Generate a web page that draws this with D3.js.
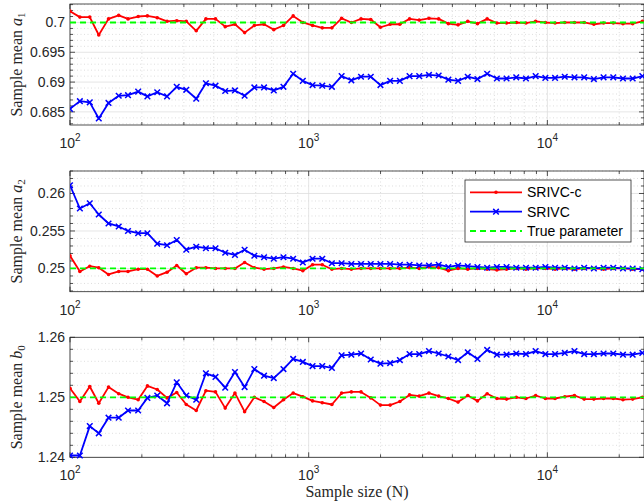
<!DOCTYPE html>
<html>
<head>
<meta charset="utf-8">
<script src="https://cdn.jsdelivr.net/npm/d3@7"></script>
<style>
  body { margin: 0; background: #fff; }
  svg text { font-family: "Liberation Sans", Arial, sans-serif; }
</style>
</head>
<body>
<div id="chart"></div>
<script>
// Sample sizes (x values)
const sampleSizes = [100, 110, 121, 132, 145, 160, 175, 193, 211, 232,
  255, 280, 307, 338, 371, 407, 447, 491, 539, 592,
  650, 714, 784, 861, 945, 1038, 1140, 1251, 1374, 1509,
  1657, 1820, 1998, 2194, 2410, 2646, 2905, 3191, 3504, 3847,
  4225, 4639, 5094, 5594, 6143, 6745, 7407, 8134, 8932, 9808,
  10770, 11827, 12987, 14261, 15660, 17196, 18883, 20736, 22770, 25000]

const seriesNames = ['SRIVC-c', 'SRIVC', 'True parameter']

// a1
const a1Srivcc = [0.7019, 0.7009, 0.7009, 0.6979, 0.7006, 0.7012, 0.7006, 0.7010, 0.7011, 0.7008,
  0.7002, 0.7003, 0.7002, 0.6986, 0.7006, 0.7006, 0.6993, 0.6997, 0.6983, 0.6995,
  0.6997, 0.6988, 0.6995, 0.7011, 0.7000, 0.6995, 0.6991, 0.6991, 0.7007, 0.7000,
  0.7006, 0.7005, 0.6992, 0.6997, 0.6997, 0.7006, 0.7004, 0.7007, 0.7006, 0.6998,
  0.6996, 0.7002, 0.6998, 0.7006, 0.6999, 0.6999, 0.7000, 0.6999, 0.7002, 0.7000,
  0.6999, 0.7000, 0.7000, 0.7000, 0.6997, 0.6999, 0.6999, 0.6998, 0.6998, 0.7002]
const a1Srivc = [0.6855, 0.6868, 0.6866, 0.6839, 0.6865, 0.6877, 0.6878, 0.6884, 0.6876, 0.6883,
  0.6876, 0.6892, 0.6887, 0.6872, 0.6898, 0.6894, 0.6885, 0.6886, 0.6877, 0.6891,
  0.6891, 0.6886, 0.6892, 0.6914, 0.6902, 0.6895, 0.6894, 0.6892, 0.6910, 0.6903,
  0.6909, 0.6909, 0.6895, 0.6902, 0.6902, 0.6910, 0.6910, 0.6912, 0.6911, 0.6904,
  0.6902, 0.6909, 0.6905, 0.6914, 0.6906, 0.6906, 0.6908, 0.6906, 0.6910, 0.6907,
  0.6907, 0.6909, 0.6908, 0.6908, 0.6905, 0.6908, 0.6908, 0.6906, 0.6906, 0.6910]

// a2
const a2Srivcc = [0.2517, 0.2496, 0.2503, 0.2501, 0.2492, 0.2496, 0.2496, 0.2499, 0.2499, 0.2490,
  0.2495, 0.2504, 0.2493, 0.2501, 0.2501, 0.2500, 0.2500, 0.2500, 0.2508, 0.2501,
  0.2499, 0.2500, 0.2502, 0.2500, 0.2497, 0.2505, 0.2505, 0.2499, 0.2500, 0.2499,
  0.2500, 0.2500, 0.2500, 0.2500, 0.2500, 0.2501, 0.2500, 0.2502, 0.2501, 0.2497,
  0.2500, 0.2499, 0.2500, 0.2499, 0.2498, 0.2499, 0.2500, 0.2499, 0.2500, 0.2500,
  0.2499, 0.2500, 0.2499, 0.2500, 0.2500, 0.2499, 0.2500, 0.2500, 0.2499, 0.2499]
const a2Srivc = [0.2611, 0.2580, 0.2587, 0.2572, 0.2560, 0.2556, 0.2550, 0.2547, 0.2547, 0.2533,
  0.2531, 0.2538, 0.2525, 0.2529, 0.2527, 0.2527, 0.2521, 0.2518, 0.2525, 0.2517,
  0.2515, 0.2513, 0.2515, 0.2513, 0.2508, 0.2513, 0.2513, 0.2507, 0.2507, 0.2506,
  0.2506, 0.2506, 0.2506, 0.2506, 0.2505, 0.2505, 0.2504, 0.2504, 0.2505, 0.2502,
  0.2504, 0.2503, 0.2502, 0.2501, 0.2502, 0.2502, 0.2501, 0.2501, 0.2501, 0.2502,
  0.2501, 0.2501, 0.2500, 0.2501, 0.2500, 0.2501, 0.2501, 0.2500, 0.2500, 0.2499]

// b0
const b0Srivcc = [1.2515, 1.2493, 1.2518, 1.2490, 1.2517, 1.2506, 1.2500, 1.2496, 1.2519, 1.2513,
  1.2499, 1.2508, 1.2488, 1.2478, 1.2511, 1.2509, 1.2482, 1.2507, 1.2476, 1.2500,
  1.2493, 1.2483, 1.2496, 1.2507, 1.2501, 1.2494, 1.2491, 1.2488, 1.2507, 1.2509,
  1.2509, 1.2499, 1.2487, 1.2487, 1.2493, 1.2504, 1.2502, 1.2507, 1.2502, 1.2498,
  1.2492, 1.2503, 1.2494, 1.2506, 1.2498, 1.2497, 1.2500, 1.2498, 1.2503, 1.2498,
  1.2498, 1.2501, 1.2503, 1.2497, 1.2497, 1.2498, 1.2498, 1.2496, 1.2497, 1.2500]
const b0Srivc = [1.2403, 1.2403, 1.2452, 1.2440, 1.2466, 1.2466, 1.2478, 1.2478, 1.2499, 1.2503,
  1.2490, 1.2525, 1.2503, 1.2496, 1.2540, 1.2534, 1.2516, 1.2542, 1.2517, 1.2547,
  1.2536, 1.2532, 1.2547, 1.2564, 1.2559, 1.2552, 1.2552, 1.2549, 1.2570, 1.2571,
  1.2573, 1.2563, 1.2556, 1.2557, 1.2562, 1.2572, 1.2572, 1.2577, 1.2573, 1.2568,
  1.2562, 1.2575, 1.2564, 1.2579, 1.2571, 1.2571, 1.2573, 1.2572, 1.2577, 1.2572,
  1.2572, 1.2574, 1.2577, 1.2572, 1.2572, 1.2573, 1.2573, 1.2571, 1.2571, 1.2574]

const trueValues = [0.7, 0.25, 1.25]
const yTicks = [[0.685, 0.69, 0.695, 0.7], [0.25, 0.255, 0.26], [1.24, 1.25, 1.26]]
const yDomains = [[0.6828, 0.7031], [0.2469, 0.2630], [1.24, 1.26]]
const yMinorStep = [0.001, 0.001, 0.002]
const paramNames = [['a', '1'], ['a', '2'], ['b', '0']]
const xTicks = [100, 1000, 10000]
const xMinor = [200, 300, 400, 500, 600, 700, 800, 900, 2000, 3000, 4000, 5000, 6000, 7000, 8000, 9000, 20000]

const panels = [
  { top: 4, bottom: 125, c: a1Srivcc, s: a1Srivc },
  { top: 171, bottom: 291.7, c: a2Srivcc, s: a2Srivc },
  { top: 337.3, bottom: 457.3, c: b0Srivcc, s: b0Srivc }
]

const width = 644
const height = 502
const left = 70
const right = 644
const axisColor = '#262626'

const svg = d3.select('#chart')
  .append('svg')
  .attr('width', width)
  .attr('height', height)

const x = d3.scaleLog().domain([100, 25400]).range([left, right])

panels.forEach((p, k) => {
  const y = d3.scaleLinear().domain(yDomains[k]).range([p.bottom, p.top])
  const g = svg.append('g')
  const [d0, d1] = yDomains[k]
  const minorY = d3.range(Math.ceil(d0 / yMinorStep[k] - 1e-6), Math.floor(d1 / yMinorStep[k] + 1e-6) + 1)
    .map(v => +(v * yMinorStep[k]).toFixed(4))
    .filter(v => !yTicks[k].some(t => Math.abs(t - v) < 1e-6))

  // minor grid (dotted)
  g.selectAll('.mgy').data(minorY).join('line')
    .attr('x1', left).attr('x2', right)
    .attr('y1', d => y(d)).attr('y2', d => y(d))
    .attr('stroke', '#c8c8c8').attr('stroke-width', 0.6)
    .attr('stroke-dasharray', '1,2.5')
  g.selectAll('.mgx').data(xMinor).join('line')
    .attr('x1', d => x(d)).attr('x2', d => x(d))
    .attr('y1', p.top).attr('y2', p.bottom)
    .attr('stroke', '#c8c8c8').attr('stroke-width', 0.6)
    .attr('stroke-dasharray', '1,2.5')

  // major grid
  g.selectAll('.gy').data(yTicks[k]).join('line')
    .attr('x1', left).attr('x2', right)
    .attr('y1', d => y(d)).attr('y2', d => y(d))
    .attr('stroke', '#dedede').attr('stroke-width', 0.8)
  g.selectAll('.gx').data(xTicks).join('line')
    .attr('x1', d => x(d)).attr('x2', d => x(d))
    .attr('y1', p.top).attr('y2', p.bottom)
    .attr('stroke', '#dedede').attr('stroke-width', 0.8)

  // tick marks (inward, both sides)
  const tickLines = []
  yTicks[k].forEach(v => {
    tickLines.push([left, y(v), left + 5, y(v)])
    tickLines.push([right - 5, y(v), right, y(v)])
  })
  minorY.forEach(v => {
    tickLines.push([left, y(v), left + 3, y(v)])
    tickLines.push([right - 3, y(v), right, y(v)])
  })
  xTicks.forEach(v => {
    tickLines.push([x(v), p.bottom, x(v), p.bottom - 5])
    tickLines.push([x(v), p.top, x(v), p.top + 5])
  })
  xMinor.forEach(v => {
    tickLines.push([x(v), p.bottom, x(v), p.bottom - 3])
    tickLines.push([x(v), p.top, x(v), p.top + 3])
  })
  g.selectAll('.tk').data(tickLines).join('line')
    .attr('x1', d => d[0]).attr('y1', d => d[1])
    .attr('x2', d => d[2]).attr('y2', d => d[3])
    .attr('stroke', axisColor).attr('stroke-width', 0.8)

  // box
  g.append('rect')
    .attr('x', left).attr('y', p.top)
    .attr('width', right - left).attr('height', p.bottom - p.top)
    .attr('fill', 'none').attr('stroke', axisColor).attr('stroke-width', 0.8)

  // y tick labels
  g.selectAll('.yl').data(yTicks[k]).join('text')
    .attr('x', left - 5).attr('y', d => y(d)).attr('dy', '0.35em')
    .attr('text-anchor', 'end').attr('font-size', 14).attr('fill', axisColor)
    .text(d => String(d).replace(/^0(?=\.)/, '0'))

  // x tick labels 10^n
  const xl = g.selectAll('.xl').data(xTicks).join('text')
    .attr('x', d => x(d)).attr('y', p.bottom + 23)
    .attr('text-anchor', 'middle').attr('font-size', 14).attr('fill', axisColor)
  xl.append('tspan').text('10')
  xl.append('tspan').attr('dy', -7).attr('font-size', 10).text(d => Math.round(Math.log10(d)))

  // y label
  const yl = g.append('text')
    .attr('transform', `translate(22, ${(p.top + p.bottom) / 2}) rotate(-90)`)
    .attr('text-anchor', 'middle')
    .attr('font-size', 16).attr('fill', axisColor)
    .style('font-family', '"Liberation Serif", "DejaVu Serif", serif')
  yl.append('tspan').text('Sample mean ')
  yl.append('tspan').attr('font-style', 'italic').text(paramNames[k][0])
  yl.append('tspan').attr('font-size', 11).attr('dy', 3).text(paramNames[k][1])

  // lines
  const line = vals => d3.line()
    .x((d, i) => x(sampleSizes[i]))
    .y(d => y(d))(vals)

  const clip = svg.append('clipPath').attr('id', 'clip' + k)
  clip.append('rect').attr('x', left).attr('y', p.top - 6)
    .attr('width', right - left + 6).attr('height', p.bottom - p.top + 12)
  const plot = g.append('g').attr('clip-path', `url(#clip${k})`)

  plot.append('path')
    .attr('d', line(p.c))
    .attr('fill', 'none').attr('stroke', '#ff0000').attr('stroke-width', 1.8)
    .attr('stroke-linejoin', 'round')
  plot.selectAll('.dot').data(p.c).join('circle')
    .attr('cx', (d, i) => x(sampleSizes[i])).attr('cy', d => y(d))
    .attr('r', 1.8).attr('fill', '#ff0000')

  plot.append('path')
    .attr('d', line(p.s))
    .attr('fill', 'none').attr('stroke', '#0000ff').attr('stroke-width', 1.8)
    .attr('stroke-linejoin', 'round')
  plot.selectAll('.cross').data(p.s).join('path')
    .attr('transform', (d, i) => `translate(${x(sampleSizes[i])}, ${y(d)})`)
    .attr('d', 'M-2.8,-2.8L2.8,2.8M-2.8,2.8L2.8,-2.8')
    .attr('stroke', '#0000ff').attr('stroke-width', 1.5)

  plot.append('line')
    .attr('x1', left).attr('x2', right)
    .attr('y1', y(trueValues[k])).attr('y2', y(trueValues[k]))
    .attr('stroke', '#00ff00').attr('stroke-width', 1.8)
    .attr('stroke-dasharray', '6,4')
})

// Legend
const lg = svg.append('g')
lg.append('rect')
  .attr('x', 465).attr('y', 180).attr('width', 166).attr('height', 62)
  .attr('fill', '#fff').attr('stroke', axisColor).attr('stroke-width', 0.8)
const rowsY = [192.3, 211.7, 231]
const colors = ['#ff0000', '#0000ff', '#00ff00']
seriesNames.forEach((name, i) => {
  const ln = lg.append('line')
    .attr('x1', 470).attr('x2', 522).attr('y1', rowsY[i]).attr('y2', rowsY[i])
    .attr('stroke', colors[i]).attr('stroke-width', 1.8)
  if (i === 2) ln.attr('stroke-dasharray', '6,4')
  if (i === 0) {
    lg.append('circle').attr('cx', 496).attr('cy', rowsY[i]).attr('r', 1.8).attr('fill', colors[i])
  }
  if (i === 1) {
    lg.append('path').attr('transform', `translate(496, ${rowsY[i]})`)
      .attr('d', 'M-2.8,-2.8L2.8,2.8M-2.8,2.8L2.8,-2.8')
      .attr('stroke', colors[i]).attr('stroke-width', 1.5)
  }
  lg.append('text')
    .attr('x', 527).attr('y', rowsY[i]).attr('dy', '0.35em')
    .attr('font-size', 14).attr('fill', '#000')
    .text(name)
})

// x label
svg.append('text')
  .attr('x', (left + right) / 2).attr('y', 497)
  .attr('text-anchor', 'middle').attr('font-size', 16).attr('fill', axisColor)
  .style('font-family', '"Liberation Serif", "DejaVu Serif", serif')
  .text('Sample size (N)')
</script>
</body>
</html>
